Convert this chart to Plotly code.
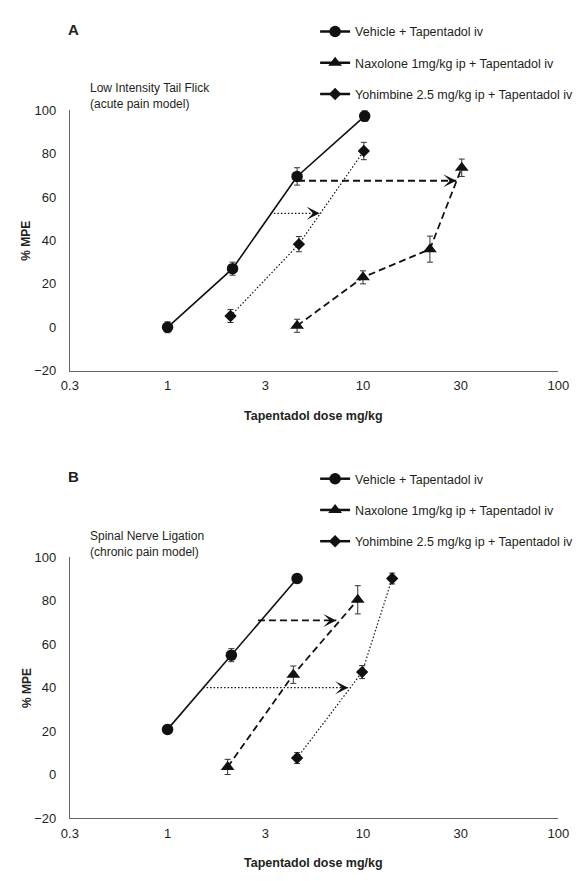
import math
import plotly.graph_objects as go

# ---------------- data ----------------
tick_labels = ["0.3", "1", "3", "10", "30", "100"]
tick_exponents = [-0.5, 0, 0.5, 1, 1.5, 2]  # half-decade ticks
y_ticks = [-20, 0, 20, 40, 60, 80, 100]

series_names = ["Vehicle + Tapentadol iv",
                "Naxolone 1mg/kg ip + Tapentadol iv",
                "Yohimbine 2.5 mg/kg ip + Tapentadol iv"]

# Panel A: Low Intensity Tail Flick
veh_A_dose = [1, 2.15, 4.6, 10.2]
veh_A_mpe = [0, 27, 69.5, 97.3]
veh_A_err = [2.5, 3, 4, 2.5]
nal_A_dose = [4.6, 10, 22, 32]
nal_A_mpe = [0.7, 23, 36, 73.5]
nal_A_err = [3, 3, 6, 4]
yoh_A_dose = [2.1, 4.7, 10.1]
yoh_A_mpe = [5.2, 38.3, 81.2]
yoh_A_err = [3, 3.5, 4]
shiftA_nal_dose = [4.65, 30]
shiftA_nal_mpe = [67.5, 67.5]
shiftA_yoh_dose = [3.5, 6.0]
shiftA_yoh_mpe = [52.5, 52.5]

# Panel B: Spinal Nerve Ligation
veh_B_dose = [1, 2.12, 4.6]
veh_B_mpe = [20.8, 55, 90.3]
veh_B_err = [2, 3, 2]
nal_B_dose = [2.03, 4.4, 9.4]
nal_B_mpe = [3.5, 46, 80.5]
nal_B_err = [3.5, 4, 6.5]
yoh_B_dose = [4.6, 9.9, 14.1]
yoh_B_mpe = [7.6, 47.2, 90.3]
yoh_B_err = [2.5, 3, 2.5]
shiftB_nal_dose = [2.9, 7.3]
shiftB_nal_mpe = [71, 71]
shiftB_yoh_dose = [1.52, 8.4]
shiftB_yoh_mpe = [40, 40]

# ---------------- styling ----------------
W, H = 582, 881
FONT = "Liberation Sans, Arial, sans-serif"
TXT = "#231f20"
INK = "#111111"

styles = [
    dict(symbol="circle", size=11.5, dash="solid", width=1.6),
    dict(symbol="triangle-up", size=12, dash="7px,4px", width=1.8),
    dict(symbol="diamond", size=9.5, dash="1.5px,2px", width=1.2),
]

fig = go.Figure()

def add_series(xa, ya, legend, xs, ys, es, st, name):
    fig.add_trace(go.Scatter(
        x=xs, y=ys, mode="lines+markers", xaxis=xa, yaxis=ya,
        line=dict(color=INK, width=st["width"], dash=st["dash"]),
        marker=dict(symbol=st["symbol"], size=st["size"], color=INK),
        error_y=dict(type="data", array=es, visible=True, color="#333333",
                     thickness=1, width=3),
        showlegend=False, name=name, hoverinfo="x+y"))
    # legend sample (solid line through marker)
    fig.add_trace(go.Scatter(
        x=[None], y=[None], mode="lines+markers", xaxis=xa, yaxis=ya,
        line=dict(color=INK, width=2.5),
        marker=dict(symbol=st["symbol"], size=st["size"], color=INK),
        name=name, legend=legend, legendgroup=legend + name, showlegend=True))

def add_shift(xa, ya, xs, ys, dash, width):
    fig.add_trace(go.Scatter(
        x=xs, y=ys, mode="lines", xaxis=xa, yaxis=ya,
        line=dict(color=INK, width=width, dash=dash),
        showlegend=False, hoverinfo="skip"))
    fig.add_annotation(
        x=math.log10(xs[-1]), y=ys[-1], xref=xa, yref=ya.replace("axis", ""),
        ax=-8, ay=0, showarrow=True, arrowhead=3, arrowsize=1.8,
        arrowwidth=1.2, arrowcolor=INK, text="")

panelA = [(veh_A_dose, veh_A_mpe, veh_A_err), (nal_A_dose, nal_A_mpe, nal_A_err),
          (yoh_A_dose, yoh_A_mpe, yoh_A_err)]
panelB = [(veh_B_dose, veh_B_mpe, veh_B_err), (nal_B_dose, nal_B_mpe, nal_B_err),
          (yoh_B_dose, yoh_B_mpe, yoh_B_err)]

for (xs, ys, es), st, nm in zip(panelA, styles, series_names):
    add_series("x", "y", "legend", xs, ys, es, st, nm)
for (xs, ys, es), st, nm in zip(panelB, styles, series_names):
    add_series("x2", "y2", "legend2", xs, ys, es, st, nm)

add_shift("x", "y", shiftA_nal_dose, shiftA_nal_mpe, "7px,4px", 1.8)
add_shift("x", "y", shiftA_yoh_dose, shiftA_yoh_mpe, "1.5px,2px", 1.2)
add_shift("x2", "y2", shiftB_nal_dose, shiftB_nal_mpe, "7px,4px", 1.8)
add_shift("x2", "y2", shiftB_yoh_dose, shiftB_yoh_mpe, "1.5px,2px", 1.2)

tickvals = [10 ** e for e in tick_exponents]
X0, X1 = 63, 569
xdom = [X0 / W, X1 / W]

def xaxis_cfg(anchor):
    return dict(type="log", range=[tick_exponents[0], tick_exponents[-1]],
                domain=xdom, anchor=anchor, tickvals=tickvals, ticktext=tick_labels,
                showline=True, linecolor="#666666", linewidth=1,
                ticks="outside", ticklen=3, tickcolor="rgba(0,0,0,0)",
                showgrid=False, zeroline=False,
                tickfont=dict(family=FONT, size=13, color=TXT))

def yaxis_cfg(anchor, dom):
    return dict(range=[y_ticks[0], y_ticks[-1]], domain=dom, anchor=anchor,
                tickvals=y_ticks,
                showline=True, linecolor="#666666", linewidth=1,
                ticks="outside", ticklen=10, tickcolor="rgba(0,0,0,0)",
                showgrid=False, zeroline=False,
                tickfont=dict(family=FONT, size=13, color=TXT))

# panel pixel geometry (top of y-axis, bottom/x-axis line)
A_TOP, A_BOT = 105, 370
B_TOP, B_BOT = 560, 825
yA = [1 - A_BOT / H, 1 - A_TOP / H]
yB = [1 - B_BOT / H, 1 - B_TOP / H]

legend_common = dict(
    xanchor="left", yanchor="top", bgcolor="rgba(0,0,0,0)",
    font=dict(family=FONT, size=12.5, color=TXT),
    itemwidth=30, tracegroupgap=12, traceorder="grouped")

fig.update_layout(
    width=W, height=H, margin=dict(l=0, r=0, t=0, b=0),
    paper_bgcolor="white", plot_bgcolor="white",
    font=dict(family=FONT, color=TXT),
    xaxis=xaxis_cfg("y"), yaxis=yaxis_cfg("x", yA),
    xaxis2=xaxis_cfg("y2"), yaxis2=yaxis_cfg("x2", yB),
    legend=dict(x=317 / W, y=1 - (A_TOP - 95) / H, **legend_common),
    legend2=dict(x=317 / W, y=1 - (B_TOP - 95) / H, **legend_common),
)

def txt(t, px, py, size, xanchor="left", angle=0, align="left"):
    fig.add_annotation(text=t, x=px / W, y=1 - py / H, xref="paper", yref="paper",
                       xanchor=xanchor, yanchor="middle", align=align,
                       textangle=angle, showarrow=False,
                       font=dict(family=FONT, size=size, color=TXT))

for label, top, bot, note in [("A", A_TOP, A_BOT, "Low Intensity Tail Flick<br>(acute pain model)"),
                              ("B", B_TOP, B_BOT, "Spinal Nerve Ligation<br>(chronic pain model)")]:
    txt("<b>%s</b>" % label, 59, top - 82, 15)
    txt(note, 82, top - 14, 12)
    txt("<b>% MPE</b>", 18, (top + bot) / 2, 12, xanchor="center", angle=-90)
    txt("<b>Tapentadol dose mg/kg</b>", 315, bot + 46, 12.5, xanchor="center")

# remove the browser's default page margin so the figure sits at (0, 0)
fig.write_html("out.html",
               config={"displayModeBar": False},
               post_script="document.body.style.margin='0';document.body.style.overflow='hidden';")
